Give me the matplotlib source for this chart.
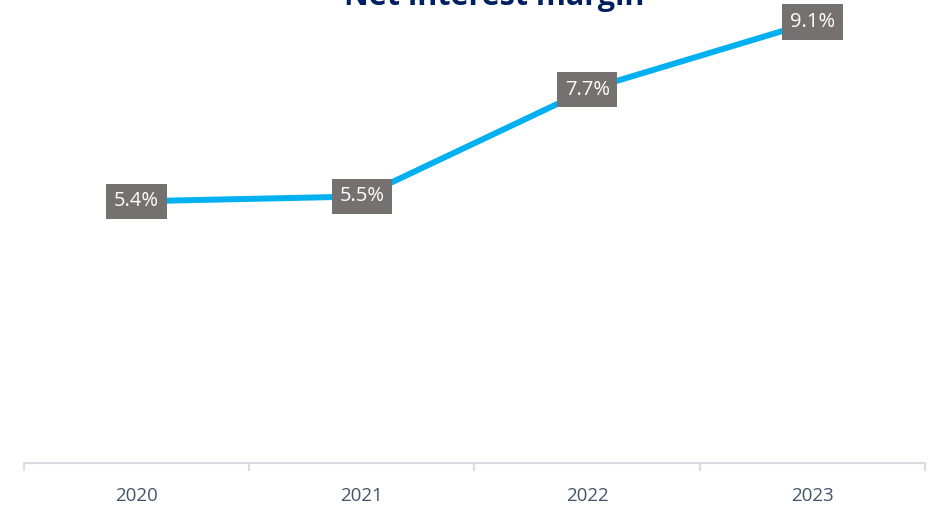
import matplotlib
matplotlib.use("Agg")
import matplotlib.pyplot as plt
import numpy as np

years = ["2020", "2021", "2022", "2023"]
nim = [5.4, 5.5, 7.7, 9.1]
labels = ["5.4%", "5.5%", "7.7%", "9.1%"]
title = "Net interest margin"

plt.rcParams['font.family'] = ['Open Sans', 'DejaVu Sans']

W, H = 934, 508
fig = plt.figure(figsize=(W/100, H/100), dpi=100)
ax = fig.add_axes([24/W, 45/H, 901/W, 463/H])
x = np.arange(len(years))
ax.plot(x, nim, color="#00B0F0", lw=4.3, solid_capstyle="butt", zorder=2)
for xi, v, lab in zip(x, nim, labels):
    ax.text(xi, v, lab, ha="center", va="center", color="white", fontsize=14.5,
            bbox=dict(boxstyle="square,pad=0.38", fc="#767171", ec="none"), zorder=3)

ax.set_xlim(-0.5, len(years) - 0.5)
ax.set_ylim(0, 463 / ((463 - 22) / 9.1))
for s in ["top", "right", "left"]:
    ax.spines[s].set_visible(False)
ax.spines["bottom"].set_color("#D9DDE3")
ax.spines["bottom"].set_linewidth(1.5)
ax.set_yticks([])
ax.set_xticks(x)
ax.set_xticklabels(years, fontsize=13.5, color="#44546A")
ax.tick_params(axis="x", which="major", length=0, pad=17)
ax.set_xticks(np.arange(-0.5, len(years)), minor=True)
ax.tick_params(axis="x", which="minor", length=6, width=1.5, color="#D9DDE3", direction="out")

fig.text(494/W, 1 - 5/H, title, ha="center", va="baseline", fontsize=22,
         fontweight="bold", color="#002060")

fig.savefig("out.png", dpi=100)
